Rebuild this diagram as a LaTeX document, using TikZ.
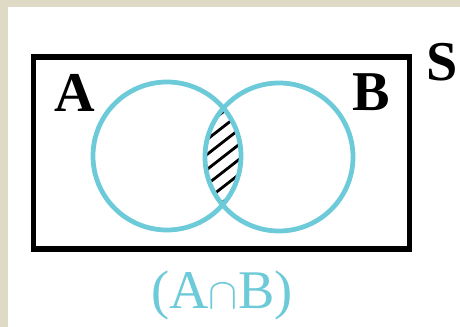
\documentclass[tikz,border=0pt]{standalone}
\usepackage{fontspec}
\setmainfont{Liberation Serif}
\usepackage{xcolor}
\usetikzlibrary{positioning}
\definecolor{setcyan}{HTML}{6CCAD9}
\definecolor{pagebeige}{HTML}{DFDAC6}
\tikzset{
  univ/.style={draw=black,line width=3.1pt},
  setline/.style={draw=setcyan,line width=2.7pt},
  hatchline/.style={draw=black,line width=1.6pt},
  setname/.style={inner sep=0pt,font=\fontsize{32}{36}\selectfont\bfseries},
  caption/.style={inner sep=0pt,text=setcyan,font=\fontsize{31}{34}\selectfont}
}

\begin{document}
\begin{tikzpicture}[x=0.02cm,y=-0.02cm]
  % page and margins
  \fill[pagebeige] (0,0) rectangle (460,327);
  \fill[white] (8,7) rectangle (460,327);
  \useasboundingbox (0,0) rectangle (460,327);

  % hatched intersection
  \begin{scope}
    \clip (167,156) circle[radius=74];
    \clip (279,157) circle[radius=74];
    \foreach \k in {-8,...,8}
      \draw[hatchline] (123,157+\k*15+78) -- (323,157+\k*15-78);
  \end{scope}

  % universal set and the two sets
  \draw[univ] (33.5,57) rectangle (409.5,249);
  \draw[setline] (167,156) circle[radius=74];
  \draw[setline] (279,157) circle[radius=74];

  \node[setname] (lblA) at (75,93) {A};
  \node[setname] (lblB) at (371,92) {B};
  \node[setname] (lblS) at (442,62) {S};
  \node[caption] (cap) at (222,295) {(A$\cap$B)};
\end{tikzpicture}
\end{document}
